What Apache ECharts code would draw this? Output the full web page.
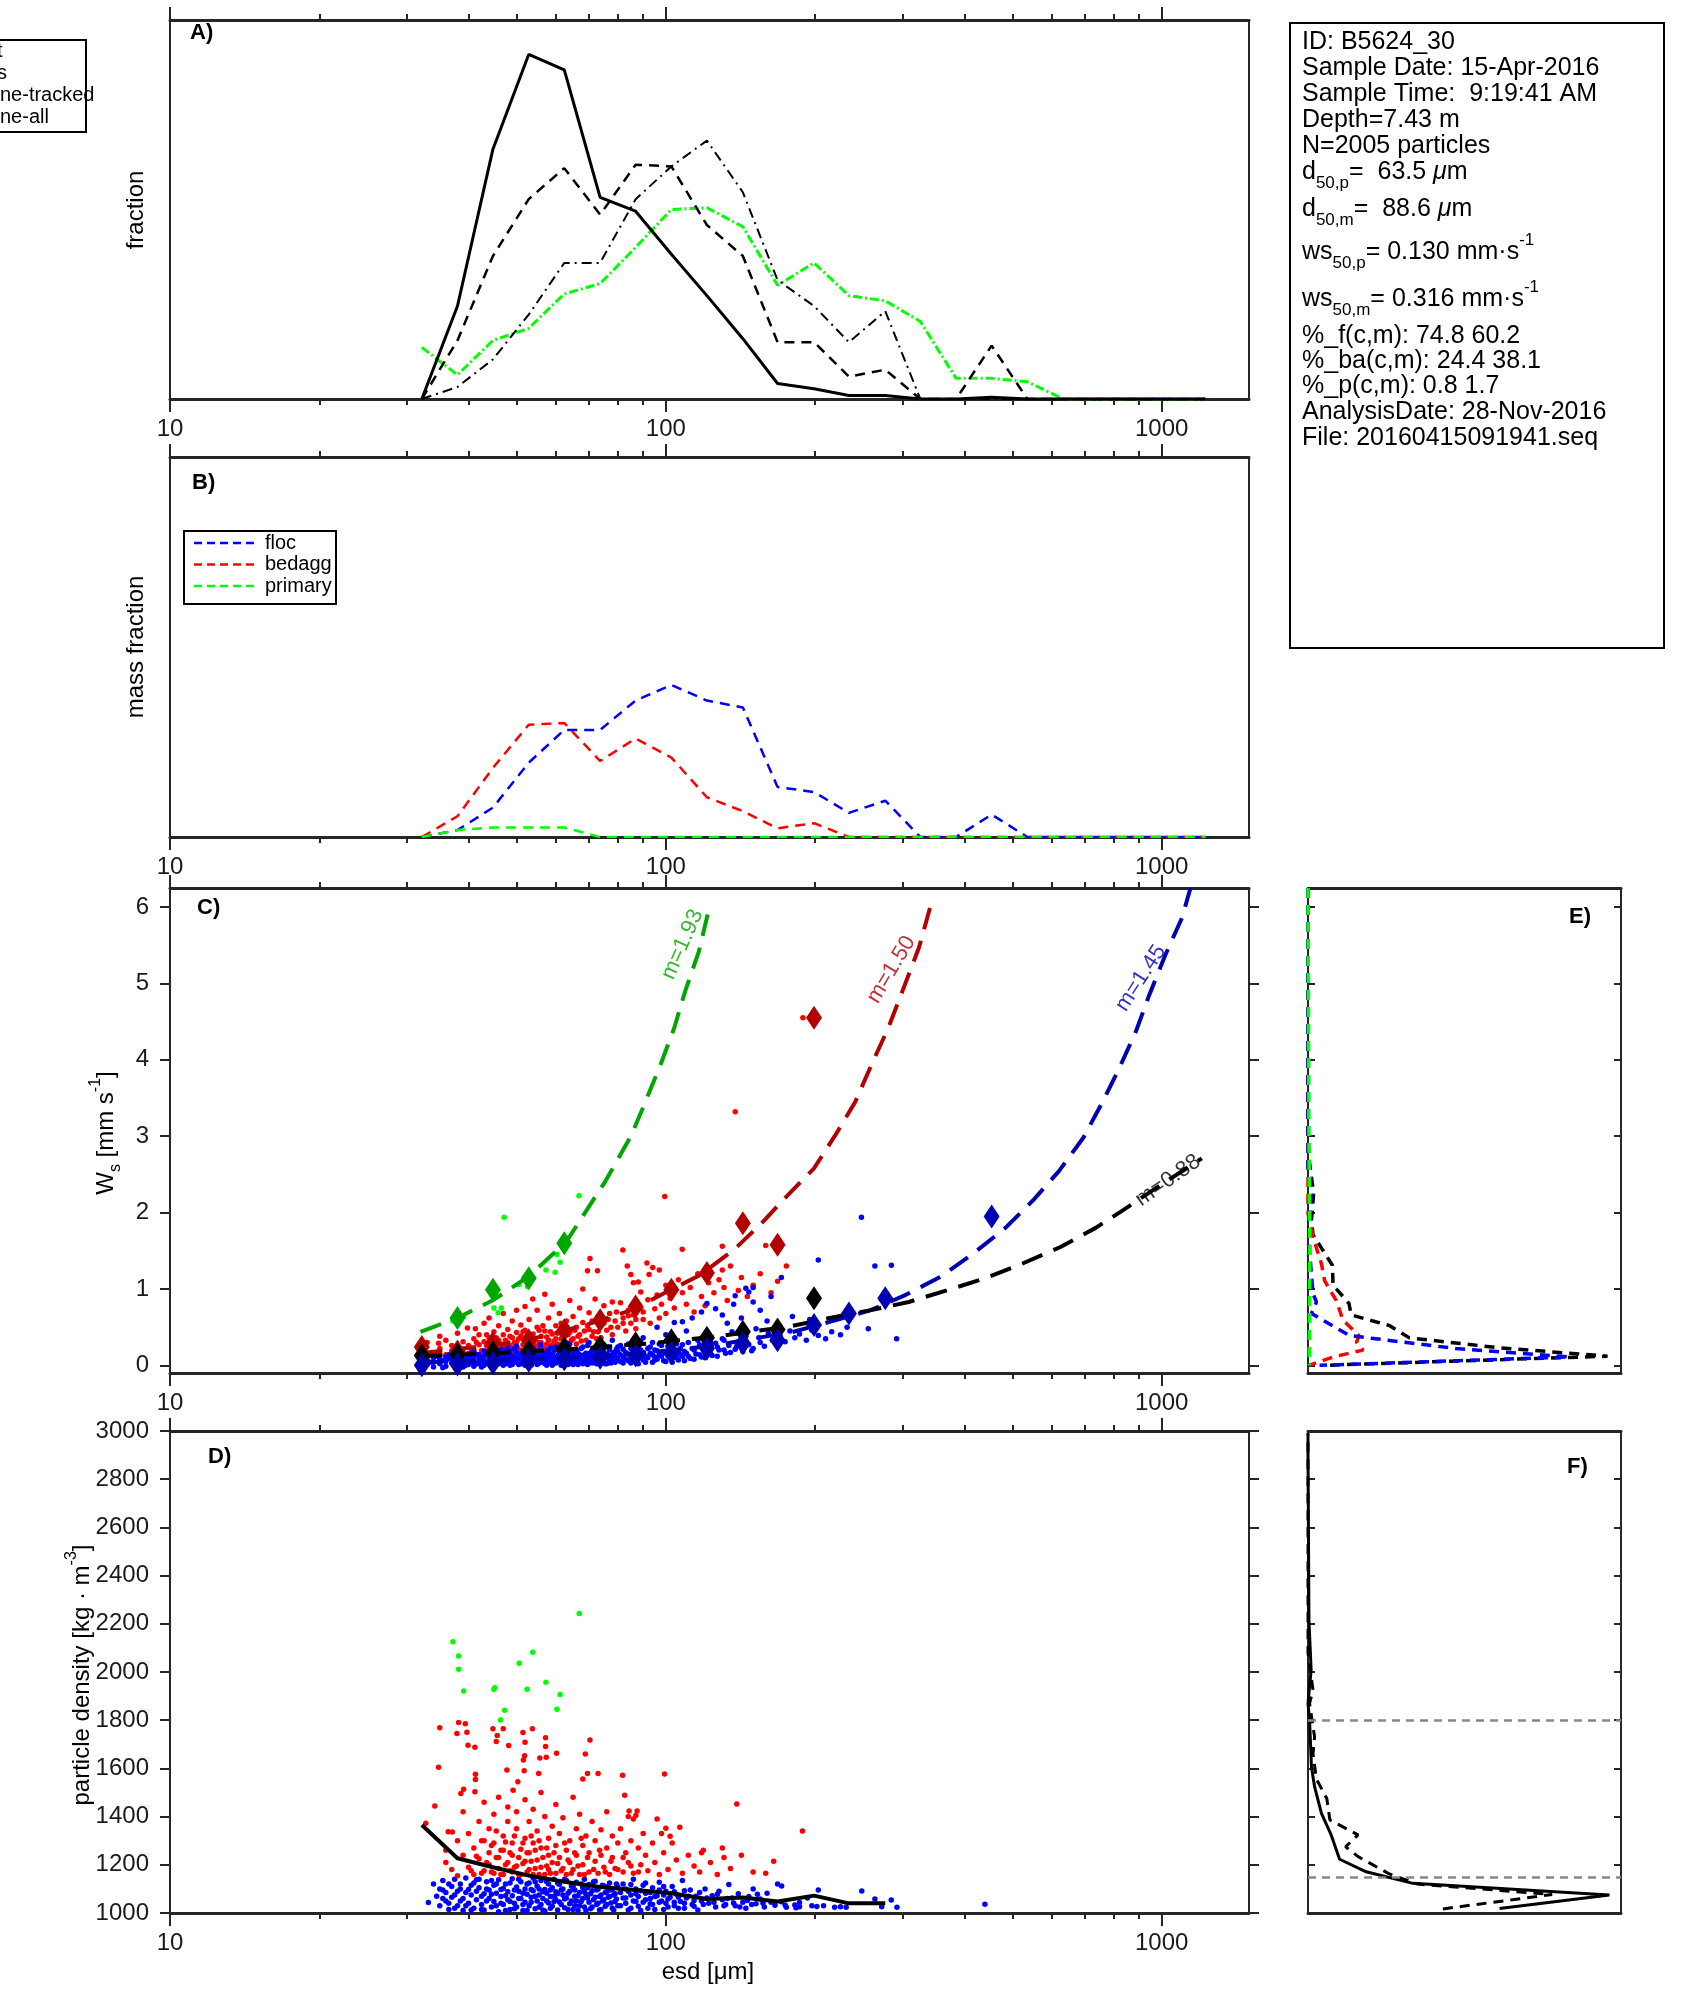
<!DOCTYPE html>
<html><head><meta charset="utf-8">
<script src="https://cdn.jsdelivr.net/npm/echarts@6/dist/echarts.min.js"></script>
<style>html,body{margin:0;padding:0;background:#fff}#c{width:1694px;height:2015px}</style>
</head><body><div id="c"></div>
<script>
// ---------------- DATA ----------------
const esdBins = [32.2,38.0,44.8,52.9,62.4,73.7,86.9,102.6,121,143,168,199,234,277,326,385,454,536,633,746,881,1039,1226];
const majorTicks = [10,100,1000];
const minorTicks = [20,30,40,50,60,70,80,90,200,300,400,500,600,700,800,900];
const wsTicks = [0,1,2,3,4,5,6];
const legendTextsA = ['t','s','ne-tracked','ne-all'];
const legendTextsB = ['floc','bedagg','primary'];
const fitLabels = ['m=1.45','m=1.50','m=1.93','m=0.88'];
const densityThresholds = [1150,1800];

// Panel A: size distributions (fraction)
const distSolid   = [0,0.054,0.145,0.200,0.191,0.117,0.109,0.084,0.060,0.035,0.009,0.006,0.002,0.002,0,0,0.001,0,0,0,0,0,0];
const distDashed  = [0,0.034,0.083,0.116,0.134,0.107,0.136,0.135,0.101,0.083,0.033,0.033,0.013,0.017,0,0,0.031,0,0,0,0,0,0];
const distDashDot = [0,0.007,0.023,0.049,0.079,0.079,0.116,0.135,0.150,0.120,0.069,0.054,0.033,0.051,0,0,0,0,0,0,0,0,0];
const distGreen   = [0.030,0.014,0.034,0.041,0.061,0.067,0.088,0.110,0.111,0.100,0.066,0.079,0.060,0.057,0.045,0.012,0.012,0.010,0,0,0,0,0];

// Panel B: mass fraction
const massFloc    = [0,0.004,0.017,0.043,0.062,0.062,0.079,0.088,0.079,0.075,0.029,0.026,0.014,0.021,0,0,0.013,0,0,0,0,0,0];
const massBedagg  = [0,0.012,0.040,0.065,0.066,0.044,0.057,0.046,0.023,0.015,0.005,0.008,0,0,0,0,0,0,0,0,0,0,0];
const massPrimary = [0,0.004,0.0055,0.0055,0.0055,0,0,0,0,0,0,0,0,0,0,0,0,0,0,0,0,0,0];

// Panel C: settling velocity scatter (esd, ws)
const flocWs = [
[33,0.01],[33,0.07],[34,-0.02],[34,0.04],[34,0.1],[35,0.02],[35,0.08],[35,0.13],[36,-0.01],[36,0.05],[36,0.11],[37,0.03],[37,0.09],[37,0.15],[38,0.0],[38,0.06],[38,0.12],[39,-0.02],[39,0.04],[39,0.1],[39,0.16],[40,0.01],[40,0.07],[40,0.13],[41,-0.01],[41,0.05],[41,0.11],[41,0.18],[42,0.02],[42,0.08],[42,0.14],[43,0.0],[43,0.06],[43,0.12],[43,0.19],[44,0.03],[44,0.09],[44,0.16],[45,-0.01],[45,0.05],[45,0.11],[45,0.2],
[46,0.02],[46,0.08],[46,0.14],[47,0.0],[47,0.06],[47,0.12],[47,0.19],[48,0.03],[48,0.09],[48,0.16],[48,0.23],[49,0.01],[49,0.07],[49,0.13],[50,0.04],[50,0.1],[50,0.17],[50,0.25],[51,0.02],[51,0.08],[51,0.14],[52,0.0],[52,0.06],[52,0.12],[52,0.2],[53,0.03],[53,0.09],[53,0.16],[54,0.05],[54,0.11],[54,0.22],[55,0.01],[55,0.07],[55,0.14],[56,0.04],[56,0.1],[56,0.18],[56,0.27],[57,0.02],[57,0.08],[57,0.13],[58,0.05],[58,0.11],[58,0.2],[59,0.0],[59,0.07],[59,0.15],[60,0.03],[60,0.09],[60,0.24],
[61,0.05],[61,0.12],[61,0.18],[62,0.02],[62,0.08],[62,0.15],[63,0.04],[63,0.1],[63,0.21],[64,0.06],[64,0.13],[64,0.28],[65,0.01],[65,0.09],[65,0.17],[66,0.04],[66,0.11],[66,0.2],[67,0.07],[67,0.14],[68,0.02],[68,0.1],[68,0.24],[69,0.05],[69,0.16],[70,0.08],[70,0.12],[70,0.3],[71,0.03],[71,0.19],[72,0.06],[72,0.14],[73,0.1],[73,0.22],[74,0.04],[74,0.17],[75,0.08],[75,0.12],[75,0.27],[76,0.02],[76,0.15],[77,0.06],[77,0.2],[78,0.1],[78,0.33],[79,0.04],[79,0.13],[80,0.08],[80,0.18],[80,0.24],
[82,0.03],[82,0.11],[82,0.21],[84,0.06],[84,0.15],[84,0.28],[86,0.09],[86,0.19],[88,0.02],[88,0.13],[88,0.24],[90,0.07],[90,0.17],[90,0.36],[92,0.1],[92,0.22],[94,0.04],[94,0.14],[94,0.3],[96,0.08],[96,0.19],[98,0.12],[98,0.26],[100,0.05],[100,0.16],[100,0.4],[102,0.1],[102,0.22],[104,0.14],[104,0.31],[106,0.07],[106,0.19],[108,0.12],[108,0.27],[110,0.16],[110,0.45],
[112,0.09],[113,0.22],[115,0.15],[116,0.33],[118,0.11],[119,0.26],[121,0.18],[122,0.4],[124,0.13],[126,0.29],[128,0.2],[130,0.35],[132,0.16],[134,0.26],[136,0.44],[138,0.21],[140,0.31],[143,0.18],[145,0.38],[147,0.27],[150,0.22],[152,0.48],[155,0.3],[158,0.25],[161,0.42],[164,0.33],[167,0.28],[170,0.38],
[174,0.31],[178,0.45],[182,0.36],[186,0.41],[192,0.33],[197,0.46],[203,0.39],[210,0.35],[216,0.44],[225,0.4],[232,0.5],[256,0.48],[292,0.35],
[96,0.5],[104,0.56],[108,0.57],[113,0.62],[118,0.7],[121,0.81],[126,0.74],[130,0.66],[133,0.55],[137,0.8],[138,0.91],[142,0.62],[145,1.01],[147,0.96],[150,1.02],[150,0.83],[155,0.72],[160,0.58],[163,0.9],[171,1.15],[180,0.64],[195,0.6],[203,1.38],[248,1.94],[264,1.3],[285,1.31],
[33.5,0.04],[34.5,0.12],[35.5,-0.03],[35.5,0.06],[36.5,0.09],[36.5,0.14],[37.5,0.01],[37.5,0.07],[38.5,0.03],[38.5,0.14],[39.5,0.08],[39.5,0.0],[40.5,0.04],[40.5,0.1],[40.5,0.16],[41.5,0.02],[41.5,0.14],[42.5,0.06],[42.5,0.11],[42.5,-0.02],[43.5,0.03],[43.5,0.15],[44.5,0.0],[44.5,0.12],[44.5,0.06],[45.5,0.09],[45.5,0.17],[46.5,0.04],[46.5,0.11],[46.5,0.21],[47.5,0.02],[47.5,0.09],[47.5,0.15],[48.5,0.0],[48.5,0.12],[48.5,0.19],[49.5,0.05],[49.5,0.1],[49.5,0.22],[50.5,0.01],[50.5,0.13],[51.5,0.05],[51.5,0.18],[52.5,0.09],[52.5,0.15],[53.5,0.0],[53.5,0.12],[53.5,0.24],[54.5,0.08],[54.5,0.16],[55.5,0.03],[55.5,0.11],[55.5,0.2],[56.5,0.06],[56.5,0.14],[57.5,0.0],[57.5,0.1],[57.5,0.17],[58.5,0.03],[58.5,0.14],[58.5,0.23],[59.5,0.04],[59.5,0.11],[59.5,0.19],[60.5,0.06],[60.5,0.13],[61.5,0.0],[61.5,0.09],[61.5,0.15],[62.5,0.05],[62.5,0.11],[62.5,0.22],[63.5,0.01],[63.5,0.07],[63.5,0.16],[64.5,0.03],[64.5,0.09],[64.5,0.2],[65.5,0.05],[65.5,0.13],[66.5,0.01],[66.5,0.08],[66.5,0.16],[67.5,0.04],[67.5,0.11],[67.5,0.22],[68.5,0.06],[68.5,0.14],[69.5,0.01],[69.5,0.1],[69.5,0.26],[70.5,0.05],[70.5,0.17],[71.5,0.08],[71.5,0.13],[72.5,0.02],[72.5,0.1],[72.5,0.18],[73.5,0.05],[73.5,0.13],[74.5,0.08],[74.5,0.2],[75.5,0.02],[75.5,0.15],[76.5,0.1],[76.5,0.24],[77.5,0.03],[77.5,0.13],[78.5,0.06],[78.5,0.17],[79.5,0.09],[79.5,0.21],[81,0.05],[81,0.14],[81,0.26],[83,0.08],[83,0.17],[85,0.03],[85,0.12],[85,0.22],[87,0.06],[87,0.15],[89,0.1],[89,0.2],[89,0.31],[91,0.04],[91,0.12],[93,0.16],[93,0.24],[95,0.07],[95,0.11],[95,0.2],[97,0.14],[97,0.28],[99,0.06],[99,0.18],[101,0.12],[101,0.25],[103,0.04],[103,0.17],[105,0.1],[105,0.28],[107,0.14],[107,0.22],[109,0.06],[109,0.18],[111,0.12],[111,0.3],[114,0.08],[114,0.2],[117,0.14],[117,0.27],[120,0.1],[120,0.22],[123,0.16],[123,0.3],[127,0.12],[127,0.24],[131,0.2],[131,0.33],[135,0.17],[139,0.25],[144,0.3],[149,0.19],[154,0.36]
];
const bedaggWs = [
[32,0.2],[33,0.12],[33,0.3],[34,0.16],[34.8,0.29],[35,0.38],[35,0.22],[36,0.14],[36,0.33],[37,0.19],[37,0.26],[38,0.42],[38,0.12],[39,0.21],[39,0.31],[39.8,0.49],[40,0.16],[40,0.26],
[41,0.2],[41.3,0.48],[41,0.35],[42,0.14],[42,0.27],[42,0.4],[43,0.18],[43,0.31],[43,0.55],[44,0.22],[44,0.36],[44,0.62],[45,0.15],[45,0.27],[45,0.44],[46,0.2],[46,0.33],[46,0.52],[47,0.17],[47,0.25],[47,0.4],[47,0.68],[48,0.22],[48,0.3],[48,0.47],[49,0.19],[49,0.36],[49,0.58],[50,0.24],[50,0.31],[50,0.43],[50,0.72],[51,0.2],[51,0.38],[51,0.53],[52,0.77],[52,0.27],[52,0.46],[53,0.22],[53,0.34],[53,0.6],[53.9,0.87],[54,0.29],[54,0.41],[55,0.25],[55,0.5],[55,0.72],
[56,0.3],[56,0.38],[57,0.93],[57,0.45],[57,0.22],[58,0.33],[58,0.62],[59,0.27],[59,0.8],[59,0.41],[60,0.35],[60,0.52],[61,0.25],[61,0.68],[62,0.39],[62,0.47],[63,0.3],[63,0.58],[64,0.85],[64,0.43],[65,0.35],[65,0.64],[66,0.28],[66,0.5],[67,0.75],[67,0.4],[68,1.0],[68,0.56],[69,0.33],[69.5,1.24],[70,0.47],[70,0.69],[70.3,1.4],[71,0.38],[71,0.58],[72,0.87],[72.8,1.24],[73,0.44],[73,0.64],[74,0.52],[74,0.36],[75,0.78],[75,0.55],
[76,0.46],[77,0.68],[78,0.83],[78,0.4],[79,0.58],[80,0.5],[81,0.82],[81.9,1.51],[82,0.62],[83,0.45],[83.6,1.3],[84,0.72],[85,1.19],[85,0.55],[86,1.08],[86,0.66],[87,0.48],[88,1.09],[88,0.78],[89,0.96],[90,0.6],[90,0.7],[91.6,1.34],[92,0.86],[92.5,1.19],[93,0.55],[94.1,1.28],[95,0.74],[96,0.92],[97,1.25],[97,0.62],[98,0.8],[99.5,2.21],[100,0.68],[100,1.05],
[102,0.88],[104,0.75],[106,1.12],[107.9,1.52],[108,0.95],[110,0.8],[112,1.02],[114,0.7],[116,1.2],[118,0.9],[120,0.78],[122,1.08],[125,0.95],[128,1.12],[130,1.25],[130,1.56],[131,1.02],[133,0.85],[135,1.3],[138,3.32],[140,0.98],[142,1.15],[146,0.9],[150,1.05],[155,1.2],[159,1.57],[163,0.95],[168,1.1],[175,1.3],[189,4.55],
[40.5,0.22],[41.5,0.3],[42.5,0.19],[43.5,0.26],[43.5,0.4],[44.5,0.2],[44.5,0.31],[45.5,0.24],[45.5,0.36],[46.5,0.18],[46.5,0.28],[47.5,0.33],[47.5,0.21],[48.5,0.26],[48.5,0.38],[49.5,0.23],[49.5,0.3],[50.5,0.2],[50.5,0.35],[51.5,0.27],[51.5,0.44],[52.5,0.24],[52.5,0.32],[53.5,0.19],[53.5,0.4],[54.5,0.25],[54.5,0.34],[55.5,0.3],[55.5,0.46],[56.5,0.22],[56.5,0.52],[57.5,0.28],[57.5,0.37],[58.5,0.25],[58.5,0.44],[59.5,0.32],[60.5,0.28],[60.5,0.42],[61.5,0.35],[61.5,0.55],[62.5,0.3],[63.5,0.4],[64.5,0.33],[65.5,0.46],[66.5,0.38],[67.5,0.32],[68.5,0.45],[69.5,0.52],[71.5,0.44],[72.5,0.35],[73.5,0.55],[76.5,0.6],[77.5,0.5],[79.5,0.7],[82,0.55],[84,0.65],[87,0.6],[89,0.75]
];
const primaryWs = [[37.2,0.58],[38.2,0.6],[39.1,0.64],[45,0.75],[45.9,0.69],[46.6,0.75],[47.2,1.94],[50.5,1.06],[52.6,1.03],[53.9,1.15],[57.3,1.25],[59.8,1.22],[60.3,1.45],[61.2,1.35],[66.8,2.22]];

// binned means (aligned with esdBins)
const binWsPrimary = [null,0.62,0.99,1.14,1.60];
const binWsBedagg  = [0.24,0.18,0.29,0.33,0.46,0.59,0.77,0.99,1.21,1.86,1.58,4.55];
const binWsAll     = [0.13,0.14,0.17,0.18,0.22,0.24,0.29,0.33,0.36,0.44,0.47,0.88];
const binWsFloc    = [0.0,0.01,0.03,0.06,0.08,0.10,0.13,0.17,0.22,0.29,0.33,0.53,0.68,0.88,null,null,1.95];

// fitted curves (esd, ws)
const fitPrimary = [[32,0.44],[38,0.62],[45,0.86],[53,1.17],[63,1.62],[75.5,2.41],[85,3.0],[90,3.38],[97.6,3.94],[104,4.42],[109.4,4.9],[116.6,5.42],[122.7,6.03]];
const fitBedagg  = [[32,0.16],[50,0.30],[58,0.40],[69,0.53],[85,0.72],[99,0.94],[117,1.18],[137,1.51],[156,1.86],[175,2.21],[199,2.58],[220,3.02],[241,3.45],[260,3.94],[281,4.42],[300,4.9],[324,5.47],[344,6.08]];
const fitFloc    = [[32,0.04],[45,0.06],[63,0.10],[87,0.15],[122,0.25],[181,0.44],[214,0.57],[258,0.72],[304,0.92],[358,1.16],[418,1.47],[484,1.80],[552,2.17],[620,2.54],[695,2.98],[760,3.45],[821,3.89],[887,4.37],[944,4.85],[1018,5.38],[1099,5.86],[1143,6.25]];
const fitAll     = [[32,0.12],[45,0.16],[63,0.21],[90,0.28],[127,0.38],[178,0.51],[214,0.62],[258,0.72],[309,0.83],[372,0.99],[441,1.14],[527,1.34],[625,1.55],[736,1.8],[826,2.01],[1000,2.37],[1205,2.71]];

// Panel D: particle density (esd, rho)
const flocRho = [
[33.2,1044],[34,1120],[34.5,1070],[35,1100],[35,1030],[35.5,1135],[36,1085],[36,1050],[36.5,1015],[37,1110],[37,1065],[37.5,1140],[38,1030],[38,1090],[38.5,1120],[39,1010],[39,1060],[39.5,1145],[40,1040],[40,1098],[40.5,1075],[41,1125],[41,1020],[41.5,1055],[42,1105],[42,1140],[42.5,1035],[43,1080],[43,1012],[43.5,1130],[44,1060],[44,1095],[44.5,1025],[45,1115],[45,1048],[45.5,1082],
[46,1005],[46,1138],[46.5,1068],[47,1102],[47,1035],[47.5,1120],[48,1055],[48,1088],[48.5,1015],[49,1142],[49,1072],[49.5,1040],[50,1108],[50,1025],[50.5,1090],[51,1130],[51,1060],[51.5,1010],[52,1100],[52,1045],[52.5,1078],[53,1125],[53,1030],[53.5,1065],[54,1145],[54,1092],[54.5,1018],[55,1050],[55,1112],[55.5,1075],[56,1035],[56,1135],[56.5,1060],[57,1098],[57,1008],[57.5,1082],[58,1120],[58,1042],[58.5,1068],[59,1028],[59,1105],[59.5,1140],[60,1055],[60,1088],[60.5,1012],
[61,1118],[61,1046],[62,1075],[62,1100],[62.5,1022],[63,1135],[63,1062],[64,1038],[64,1090],[65,1110],[65,1015],[65.5,1070],[66,1128],[66,1050],[67,1085],[67,1030],[68,1105],[68,1060],[68.5,1140],[69,1010],[69,1078],[70,1045],[70,1118],[71,1092],[71,1025],[72,1065],[72,1132],[73,1040],[73,1100],[74,1075],[74,1015],[75,1112],[75,1055],[76,1035],[76,1088],[77,1125],[77,1068],[78,1020],[78,1098],[79,1048],[79,1080],[80,1108],[80,1030],
[82,1062],[82,1120],[83,1040],[84,1090],[84,1012],[85,1075],[86,1140],[86,1050],[87,1100],[88,1028],[88,1068],[90,1115],[90,1045],[91,1082],[92,1020],[93,1060],[94,1105],[94,1035],[96,1072],[97,1128],[98,1050],[99,1015],[100,1090],[100,1040],[102,1065],[103,1110],[104,1030],[105,1078],[107,1048],[108,1135],[109,1020],[110,1062],[112,1095],[113,1035],[115,1070],[116,1012],[118,1050],[120,1100],
[122,1040],[124,1072],[126,1025],[128,1090],[130,1055],[132,1035],[134,1118],[136,1062],[138,1030],[140,1080],[143,1045],[145,1020],[147,1068],[150,1100],[152,1038],[155,1058],[158,1025],[160,1082],[163,1045],[166,1032],[168,1120],
[171,1047],[171.2,1112],[174,1033],[175,1024],[182,1033],[183,1022],[186,1026],[186,1044],[193,1062],[197,1030],[201.6,1027],[203,1095],[208,1030],[219,1024],[225,1026],[231,1024],[248.4,1091],[264,1058],[272.5,1026],[284.8,1054],[292.5,1024],[440,1036],
[35.5,1060],[35.5,1095],[36.5,1120],[36.5,1040],[37.5,1075],[37.5,1020],[38.5,1050],[38.5,1100],[39.5,1085],[39.5,1030],[40.5,1115],[40.5,1012],[41.5,1090],[41.5,1138],[42.5,1070],[42.5,1015],[43.5,1050],[43.5,1100],[44.5,1078],[44.5,1135],[45.5,1030],[45.5,1120],[46.5,1040],[46.5,1098],[47.5,1072],[47.5,1010],[48.5,1125],[48.5,1048],[49.5,1095],[49.5,1018],[50.5,1060],[50.5,1140],[51.5,1082],[51.5,1035],[52.5,1120],[52.5,1010],[53.5,1098],[53.5,1045],[54.5,1070],[54.5,1130],[55.5,1025],[55.5,1100],[56.5,1088],[56.5,1012],[57.5,1050],[57.5,1130],[58.5,1095],[58.5,1020],[59.5,1070],[59.5,1048],[60.5,1125],[60.5,1080],[61.5,1035],[61.5,1095],[62.5,1058],[62.5,1140],[63.5,1015],[63.5,1082],[64.5,1112],[64.5,1050],[65.5,1030],[65.5,1095],[66.5,1072],[66.5,1010],[67.5,1120],[67.5,1048],[68.5,1088],[68.5,1025],[69.5,1062],[69.5,1105],[70.5,1080],[70.5,1018],[71.5,1055],[71.5,1130],[72.5,1095],[72.5,1035],[73.5,1068],[73.5,1012],[74.5,1115],[74.5,1050],[75.5,1085],[75.5,1028],[76.5,1065],[76.5,1110],[77.5,1042],[77.5,1095],[78.5,1075],[78.5,1012],[79.5,1120],[79.5,1058],[81,1085],[81,1030],[83,1100],[83,1062],[85,1020],[85,1118],[87,1048],[87,1080],[89,1092],[89,1010],[91,1055],[91,1125],[93,1038],[93,1085],[95,1068],[95,1015],[97,1095],[97,1045],[99,1075],[99,1110],[101,1025],[101,1058],[104,1088],[104,1045],[106,1020],[106,1065],[109,1092],[109,1040],[111,1070],[114,1028],[114,1052],[117,1085],[119,1035],[121,1062],[125,1045],[127,1078],[131,1030],[133,1060],[137,1042],[141,1025],[146,1052],[149,1035],[153,1078],[157,1040]
];
const bedaggRho = [
[35,1769],[34.8,1605],[34.2,1444],[32.8,1372],[36.4,1337],[37.1,1336],[38.2,1790],[37.9,1745],[39.4,1785],[39.7,1750],[39.9,1696],[41.2,1688],[44.8,1765],[47,1765],[45.7,1737],[45.5,1712],[48.2,1695],[51.5,1749],[53.8,1765],[52,1709],[51.9,1652],[51.8,1590],[51.6,1635],[57.2,1727],[57.2,1691],[55.7,1643],[57.4,1646],[60.2,1663],[55.4,1579],[47.8,1593],[41.3,1576],[41.3,1554],[41.2,1503],[39.1,1514],[38.6,1496],[50.3,1545],[49.2,1509],[68.8,1660],[70.3,1718],[68,1556],[69.5,1579],[73,1579],[81.8,1572],[82.6,1489],[99.4,1577],[139,1452],[159,1165],[84.3,1423],[87.5,1423],[84,1400],[86,1390],[87,1405],[96,1390],[106.7,1356],[100,1352],[98,1330],[102,1318],[119,1260],[118,1250],[130,1270],[131,1230],[188.6,1340],
[36,1260],[36,1210],[37,1180],[38,1300],[38,1155],[39,1240],[39,1420],[40,1190],[40,1330],[41,1270],[41,1160],[42,1380],[42,1225],[43,1300],[43,1175],[43,1460],[44,1250],[44,1200],[44,1350],[45,1165],[45,1290],[45,1410],[46,1230],[46,1185],[46,1480],[47,1320],[47,1260],[47,1160],[48,1380],[48,1210],[48,1440],[49,1290],[49,1170],[49,1240],[50,1350],[50,1195],[50,1420],[51,1265],[51,1160],[52,1310],[52,1215],[52,1470],[53,1180],[53,1380],[53,1250],[54,1290],[54,1160],[54,1430],[55,1220],[55,1340],[56,1190],[56,1270],[56,1500],[57,1160],[57,1400],[58,1240],[58,1310],[58,1180],[59,1360],[59,1210],[60,1280],[60,1165],[60,1450],[61,1230],[61,1330],[62,1185],[62,1395],[63,1260],[63,1160],[64,1300],[64,1210],[65,1480],[65,1180],[66,1350],[66,1240],[67,1160],[67,1410],[68,1280],[68,1200],[69,1320],[70,1170],[70,1250],[71,1380],[72,1215],[72,1300],[73,1165],[74,1345],[74,1240],[75,1190],[76,1420],[76,1270],[77,1160],[78,1320],[78,1230],[79,1185],[80,1290],[81,1350],[82,1170],[83,1250],[84,1210],[85,1300],[86,1165],[88,1270],[89,1200],[90,1330],[91,1240],[92,1175],[94,1290],[95,1210],[97,1160],[99,1250],[101,1180],[103,1290],[105,1220],[108,1165],[111,1240],[114,1195],[117,1170],[123,1210],[127,1160],[135,1185],[142,1240],[150,1170],[165,1215],
[40.5,1175],[41.5,1235],[42.5,1165],[42.5,1300],[43.5,1210],[44.5,1170],[44.5,1280],[45.5,1230],[45.5,1340],[46.5,1160],[46.5,1260],[47.5,1200],[47.5,1295],[48.5,1175],[48.5,1250],[49.5,1320],[49.5,1190],[50.5,1230],[50.5,1160],[51.5,1205],[51.5,1290],[52.5,1170],[52.5,1250],[53.5,1215],[53.5,1320],[54.5,1185],[54.5,1260],[55.5,1160],[55.5,1300],[56.5,1230],[57.5,1195],[57.5,1270],[58.5,1165],[59.5,1250],[60.5,1205],[61.5,1175],[62.5,1290],[63.5,1220],[64.5,1165],[65.5,1250],[66.5,1195],[67.5,1310],[68.5,1160],[69.5,1230],[71.5,1180],[73.5,1260],[75.5,1170],[77.5,1215],[80,1180],[82,1230],[85,1195],[88,1170]
];
const primaryRho = [[37.2,2126],[38.2,2066],[38.2,2011],[39.1,1921],[45,1928],[45.2,1935],[50.6,2036],[53.9,2082],[52.5,1928],[57.3,1957],[61.2,1907],[60.3,1845],[66.9,2243],[47.3,1841],[46.4,1801]];
const meanRho = [1365,1227,1190,1155,1130,1108,1095,1082,1058,1064,1048,1072,1040,1040];

// Panel E: ws distributions (fraction, ws)
const eAll     = [[0,6.25],[0,3.0],[0.005,2.65],[0.018,2.25],[0.011,1.9],[0.016,1.71],[0.078,1.31],[0.08,1.05],[0.131,0.81],[0.138,0.66],[0.261,0.52],[0.324,0.36],[0.612,0.23],[0.957,0.12],[0.05,0.0]];
const eFloc    = [[0,6.25],[0,2.6],[0.011,2.27],[0.004,1.9],[0.005,1.5],[0.016,0.94],[0.027,0.83],[0.011,0.68],[0.133,0.39],[0.473,0.22],[0.835,0.11],[0.037,0.0]];
const eBedagg  = [[0,6.25],[0,2.2],[0.0,1.99],[0.016,1.68],[0.043,1.33],[0.053,1.11],[0.09,0.85],[0.112,0.59],[0.163,0.39],[0.155,0.3],[0.176,0.2],[0.08,0.11],[0.003,0.0]];
const ePrimary = [[0,6.25],[0.003,3.0],[0.006,1.6],[0.005,0.7],[0.004,0.0]];

// Panel F: density distributions (fraction, rho)
const fSolid  = [[0.612,1019],[0.963,1075],[0.335,1123],[0.186,1171],[0.101,1223],[0.074,1324],[0.043,1413],[0.021,1524],[0.011,1607],[0.005,1801],[0.0,1870],[0.01,2008],[0.003,2216],[0.0,2907],[0.0,2990]];
const fDashed = [[0.431,1017],[0.78,1077],[0.35,1120],[0.26,1162],[0.16,1234],[0.12,1275],[0.16,1324],[0.07,1386],[0.06,1475],[0.027,1555],[0.016,1660],[0.021,1730],[0.005,1870],[0.016,1925],[0.0,2080],[0.0,2990]];

// ---------------- CHART ----------------
const FONT = '"Liberation Sans", Arial, Helvetica, sans-serif';
const AX = '#262626';
const chart = echarts.init(document.getElementById('c'), null, {renderer:'canvas', width:1694, height:2015});

const L = 170, W = 1079;
const grids = [
  {left:L, top:20,   width:W, height:379},
  {left:L, top:457,  width:W, height:380},
  {left:L, top:888,  width:W, height:485},
  {left:L, top:1431, width:W, height:482},
  {left:1308, top:888,  width:313, height:485},
  {left:1308, top:1431, width:313, height:482}
];

function logXAxes(g){
  const base = {type:'log', logBase:10, gridIndex:g, min:10, max:1500, splitLine:{show:false}, minorTick:{show:false}, minorSplitLine:{show:false}};
  const tickStyle = {color:AX, width:2};
  return [
    Object.assign({}, base, {position:'bottom', axisLine:{show:true,onZero:false,lineStyle:{color:AX,width:3}},
      axisTick:{show:true,inside:false,length:13,customValues:majorTicks,lineStyle:tickStyle},
      axisLabel:{show:true,customValues:majorTicks,margin:18,fontSize:24,color:'#1a1a1a',fontFamily:FONT,formatter:v=>String(Math.round(v))}}),
    Object.assign({}, base, {position:'bottom', axisLine:{show:false,onZero:false},
      axisTick:{show:true,inside:false,length:6,customValues:minorTicks,lineStyle:tickStyle}, axisLabel:{show:false}}),
    Object.assign({}, base, {position:'top', axisLine:{show:true,onZero:false,lineStyle:{color:AX,width:3}},
      axisTick:{show:true,inside:false,length:13,customValues:majorTicks,lineStyle:tickStyle}, axisLabel:{show:false}}),
    Object.assign({}, base, {position:'top', axisLine:{show:false,onZero:false},
      axisTick:{show:true,inside:false,length:6,customValues:minorTicks,lineStyle:tickStyle}, axisLabel:{show:false}})
  ];
}
function linXAxes(g){
  const base = {type:'value', gridIndex:g, min:0, max:1, splitLine:{show:false}, axisTick:{show:false}, axisLabel:{show:false},
    axisLine:{show:true,onZero:false,lineStyle:{color:AX,width:3}}};
  return [Object.assign({}, base, {position:'bottom'}), Object.assign({}, base, {position:'top'})];
}
function yAxes(g, cfg){
  const mk = (pos) => {
    const a = {type:'value', gridIndex:g, position:pos, min:cfg.min, max:cfg.max, splitLine:{show:false},
      axisLine:{show:true,onZero:false,lineStyle:{color:AX,width:2}},
      axisTick:{show:!!cfg.ticks, inside:!!cfg.inside, length:cfg.inside?7:10, lineStyle:{color:AX,width:2}},
      axisLabel:{show:!!cfg.labels && pos==='left', margin:21, fontSize:24, color:'#1a1a1a', fontFamily:FONT, formatter:v=>String(v)}};
    if (cfg.interval) a.interval = cfg.interval;
    if (cfg.custom) { a.axisTick.customValues = cfg.custom; a.axisLabel.customValues = cfg.custom; }
    return a;
  };
  return [mk('left'), mk('right')];
}

const xAxis = [].concat(logXAxes(0), logXAxes(1), logXAxes(2), logXAxes(3), linXAxes(4), linXAxes(5));
const yAxis = [].concat(
  yAxes(0,{min:0,max:0.22}),
  yAxes(1,{min:0,max:0.22}),
  yAxes(2,{min:-0.1,max:6.25,ticks:true,labels:true,custom:wsTicks}),
  yAxes(3,{min:1000,max:3000,interval:200,ticks:true,labels:true}),
  yAxes(4,{min:-0.1,max:6.25,ticks:true,inside:true,custom:wsTicks}),
  yAxes(5,{min:1000,max:3000,interval:200,ticks:true,inside:true})
);

const zipBins = arr => arr.map((v,i)=>[esdBins[i], v]).filter(p=>p[1]!==null && p[1]!==undefined);
function lineS(xi, yi, data, color, width, type, z){
  return {type:'line', xAxisIndex:xi, yAxisIndex:yi, data:data, symbol:'none', showSymbol:false, silent:true,
    lineStyle:{color:color,width:width,type:type}, itemStyle:{color:color}, z:z||3};
}
function dotS(xi, yi, data, color, size, z, symbol){
  return {type:'scatter', xAxisIndex:xi, yAxisIndex:yi, data:data, symbol:symbol||'circle', symbolSize:size, silent:true,
    itemStyle:{color:color, opacity:1}, z:z||2};
}
function textS(xi, yi, pt, txt, color, rot){
  return {type:'scatter', xAxisIndex:xi, yAxisIndex:yi, data:[pt], symbolSize:1, silent:true, itemStyle:{color:'rgba(0,0,0,0)'},
    label:{show:true, position:'inside', formatter:txt, rotate:rot, color:color, fontSize:22, fontFamily:FONT}, z:8};
}
const GREEN_D = '#00a600', RED_D = '#b30000', BLUE_D = '#0000b3';
const DOT = 5.5;

const series = [
  // A
  lineS(0,0, zipBins(distGreen), '#00ff00', 3, [9,3,2,3]),
  lineS(0,0, zipBins(distDashDot), '#000', 2, [10,5,2,5]),
  lineS(0,0, zipBins(distDashed), '#000', 2.5, [10,7]),
  lineS(0,0, zipBins(distSolid), '#000', 3, 'solid'),
  // B
  lineS(4,2, zipBins(massFloc), '#0000ff', 2.5, [10,7]),
  lineS(4,2, zipBins(massBedagg), '#ff0000', 2.5, [10,7]),
  lineS(4,2, zipBins(massPrimary), '#00ff00', 2.5, [10,7]),
  // C scatter
  dotS(8,4, bedaggWs, '#ff0000', DOT, 2),
  dotS(8,4, flocWs, '#0000ff', DOT, 2),
  dotS(8,4, primaryWs, '#00ff00', DOT, 2),
  // C fits
  lineS(8,4, fitPrimary, GREEN_D, 4, [22,12], 4),
  lineS(8,4, fitBedagg, RED_D, 4, [22,12], 4),
  lineS(8,4, fitFloc, BLUE_D, 4, [22,12], 4),
  lineS(8,4, fitAll, '#000', 4, [22,12], 4),
  // C diamonds
  dotS(8,4, zipBins(binWsPrimary), GREEN_D, [16,24], 5, 'diamond'),
  dotS(8,4, zipBins(binWsBedagg), RED_D, [16,24], 5, 'diamond'),
  dotS(8,4, zipBins(binWsAll), '#000', [16,24], 5, 'diamond'),
  dotS(8,4, zipBins(binWsFloc), BLUE_D, [16,24], 5, 'diamond'),
  // C fit labels
  textS(8,4, [108,5.51], fitLabels[2], GREEN_D, 66),
  textS(8,4, [285,5.18], fitLabels[1], RED_D, 59),
  textS(8,4, [908,5.07], fitLabels[0], BLUE_D, 57),
  textS(8,4, [1030,2.42], fitLabels[3], '#000', 35),
  // D
  dotS(12,6, flocRho, '#0000ff', DOT, 2),
  dotS(12,6, bedaggRho, '#ff0000', DOT, 2),
  dotS(12,6, primaryRho, '#00ff00', DOT, 2),
  lineS(12,6, zipBins(meanRho), '#000', 4, 'solid', 4),
  // E
  lineS(16,8, eAll, '#000', 3.5, [10,7]),
  lineS(16,8, eBedagg, '#ff0000', 3.5, [10,7]),
  lineS(16,8, eFloc, '#0000ff', 3.5, [10,7]),
  lineS(16,8, ePrimary, '#00ff00', 3.5, [10,7]),
  // F
  Object.assign(lineS(18,10, fSolid, '#000', 3, 'solid'), {markLine:{silent:true, symbol:'none', label:{show:false},
    lineStyle:{color:'#888', type:[8,6], width:2.5}, data: densityThresholds.map(v=>({yAxis:v}))}}),
  lineS(18,10, fDashed, '#000', 3, [10,7])
];

// ---------------- GRAPHIC (text, boxes) ----------------
const rich = {
  m:{fontSize:25, lineHeight:40, fontFamily:FONT},
  s:{fontSize:17, lineHeight:16, verticalAlign:'bottom', fontFamily:FONT},
  p:{fontSize:17, lineHeight:16, verticalAlign:'top', fontFamily:FONT},
  mi:{fontSize:25, lineHeight:40, fontFamily:FONT, fontStyle:'italic'}
};
const infoLines = [
  [42,'{m|ID: B5624_30}'],
  [68,'{m|Sample Date: 15-Apr-2016}'],
  [94,'{m|Sample Time:  9:19:41 AM}'],
  [120,'{m|Depth=7.43 m}'],
  [146,'{m|N=2005 particles}'],
  [172,'{m|d}{s|50,p}{m|=  63.5 }{mi|μ}{m|m}'],
  [209,'{m|d}{s|50,m}{m|=  88.6 }{mi|μ}{m|m}'],
  [252,'{m|ws}{s|50,p}{m|= 0.130 mm·s}{p|-1}'],
  [299,'{m|ws}{s|50,m}{m|= 0.316 mm·s}{p|-1}'],
  [336,'{m|%_f(c,m): 74.8 60.2}'],
  [361,'{m|%_ba(c,m): 24.4 38.1}'],
  [386,'{m|%_p(c,m): 0.8 1.7}'],
  [412,'{m|AnalysisDate: 28-Nov-2016}'],
  [438,'{m|File: 20160415091941.seq}']
];
const gfx = [];
gfx.push({type:'rect', shape:{x:1290,y:23,width:374,height:625}, style:{fill:'none', stroke:'#000', lineWidth:2}, z:10});
infoLines.forEach(([y,t])=>gfx.push({type:'text', x:1302, y:y, style:{text:t, rich:rich, x:0, y:0, verticalAlign:'middle', align:'left', fill:'#000', fontFamily:FONT, fontSize:25}, z:10}));
gfx.push({type:'rect', shape:{x:-10,y:40,width:96,height:92}, style:{fill:'#fff', stroke:'#000', lineWidth:2}, z:10});
legendTextsA.forEach((t,i)=>gfx.push({type:'text', style:{text:t, x:(i<2?-3:0), y:51+i*22.3, verticalAlign:'middle', fontSize:20, fontFamily:FONT, fill:'#000'}, z:11}));
gfx.push({type:'rect', shape:{x:184,y:531,width:152,height:73}, style:{fill:'#fff', stroke:'#000', lineWidth:2}, z:10});
const legColors = ['#0000ff','#ff0000','#00ff00'];
legendTextsB.forEach((t,i)=>{
  const y = 543 + i*21.5;
  gfx.push({type:'line', shape:{x1:194,y1:y,x2:258,y2:y}, style:{stroke:legColors[i], lineWidth:2.5, lineDash:[8,5]}, z:11});
  gfx.push({type:'text', style:{text:t, x:265, y:y, verticalAlign:'middle', fontSize:20, fontFamily:FONT, fill:'#000'}, z:11});
});
[['A)',190,33],['B)',192,483],['C)',197,908],['D)',208,1457],['E)',1569,917],['F)',1567,1467]].forEach(([t,x,y])=>
  gfx.push({type:'text', style:{text:t, x:x, y:y, verticalAlign:'middle', fontSize:22, fontWeight:'bold', fontFamily:FONT, fill:'#000'}, z:11}));
const titleRich = {
  m:{fontSize:24, lineHeight:36, fontFamily:FONT},
  s:{fontSize:16, lineHeight:14, verticalAlign:'bottom', fontFamily:FONT},
  p:{fontSize:16, lineHeight:14, verticalAlign:'top', fontFamily:FONT}
};
[['{m|fraction}',136,210],['{m|mass fraction}',136,647],['{m|W}{s|s}{m| [mm s}{p|-1}{m|]}',106,1133],['{m|particle density [kg · m}{p|-3}{m|]}',82,1675]].forEach(([t,x,y])=>
  gfx.push({type:'text', x:x, y:y, rotation:Math.PI/2, style:{text:t, rich:titleRich, x:0, y:0, align:'center', verticalAlign:'middle', fill:'#000', fontFamily:FONT, fontSize:24}, z:11}));
gfx.push({type:'text', style:{text:'esd [μm]', x:708, y:1972, align:'center', verticalAlign:'middle', fontSize:24, fontFamily:FONT, fill:'#000'}, z:11});

chart.setOption({
  animation:false,
  backgroundColor:'#fff',
  textStyle:{fontFamily:FONT},
  grid:grids, xAxis:xAxis, yAxis:yAxis, series:series,
  graphic:{elements:gfx}
});
</script></body></html>
